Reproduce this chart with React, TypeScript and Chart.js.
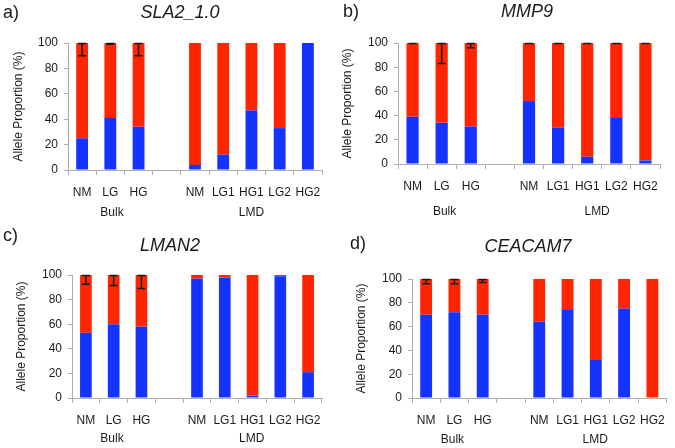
import React, { useEffect, useRef } from "react";
import { Chart, registerables } from "chart.js";

Chart.register(...registerables);

// ---- data ----
const CATEGORIES = ["NM", "LG", "HG", "", "NM", "LG1", "HG1", "LG2", "HG2"];
const GROUP_LABELS = ["Bulk", "LMD"];
const Y_TICKS = [0, 20, 40, 60, 80, 100];

const SLA2_BLUE = [25, 41, 34, null, 4, 12, 47, 33, 100];
const SLA2_RED = [75, 59, 66, null, 96, 88, 53, 67, 0];
const SLA2_ERR = [10, 1, 10, null, null, null, null, null, null];

const MMP9_BLUE = [39, 34, 31, null, 52, 30, 6, 38, 3];
const MMP9_RED = [61, 66, 69, null, 48, 70, 94, 62, 97];
const MMP9_ERR = [0.5, 17, 4, null, 0.5, 0.5, 0.5, 0.5, 0.5];

const LMAN2_BLUE = [53, 60, 58, null, 97, 98, 2, 99, 21];
const LMAN2_RED = [47, 40, 42, null, 3, 2, 98, 1, 79];
const LMAN2_ERR = [7.5, 8.5, 11, null, null, null, null, null, null];

const CEACAM7_BLUE = [70, 72, 70, null, 64, 74, 32, 75, 0];
const CEACAM7_RED = [30, 28, 30, null, 36, 26, 68, 25, 100];
const CEACAM7_ERR = [4, 4, 3, null, null, null, null, null, null];

const BLUE = "#1433ff";
const RED = "#ff2500";
const AXIS = "#aeaeae";
const TEXT = "#1a1a1a";
const FONT = "'Liberation Sans', Arial, sans-serif";

type Panel = {
  letter: string;
  title: string;
  blue: (number | null)[];
  red: (number | null)[];
  err: (number | null)[];
  box: { x: number; y: number; w: number; h: number };
  plot: { left: number; right: number; top: number; bottom: number };
  titleX: number;
  titleY: number;
  letterX: number;
  letterY: number;
  groupPos: number[];
  groupY: number;
  yTitleX: number;
};

const PANELS: Panel[] = [
  {
    letter: "a)", title: "SLA2_1.0", blue: SLA2_BLUE, red: SLA2_RED, err: SLA2_ERR,
    box: { x: 0, y: 0, w: 337, h: 224 },
    plot: { left: 68, right: 322, top: 43, bottom: 170 },
    titleX: 180, titleY: 13, letterX: 3, letterY: 13,
    groupPos: [1.06, 6.0], groupY: 213, yTitleX: 19,
  },
  {
    letter: "b)", title: "MMP9", blue: MMP9_BLUE, red: MMP9_RED, err: MMP9_ERR,
    box: { x: 335, y: 0, w: 340, h: 224 },
    plot: { left: 63, right: 325, top: 43, bottom: 164 },
    titleX: 192, titleY: 12, letterX: 8, letterY: 12,
    groupPos: [1.1, 6.34], groupY: 212, yTitleX: 13,
  },
  {
    letter: "c)", title: "LMAN2", blue: LMAN2_BLUE, red: LMAN2_RED, err: LMAN2_ERR,
    box: { x: 0, y: 224, w: 337, h: 224 },
    plot: { left: 72, right: 322, top: 51, bottom: 174 },
    titleX: 170, titleY: 22, letterX: 3, letterY: 12,
    groupPos: [0.94, 5.97], groupY: 215, yTitleX: 22,
  },
  {
    letter: "d)", title: "CEACAM7", blue: CEACAM7_BLUE, red: CEACAM7_RED, err: CEACAM7_ERR,
    box: { x: 335, y: 224, w: 340, h: 224 },
    plot: { left: 77, right: 335, top: 55, bottom: 174 },
    titleX: 193, titleY: 23, letterX: 15, letterY: 20,
    groupPos: [0.93, 5.98], groupY: 216, yTitleX: 27,
  },
];

const Y_TITLE_SIZE = 12;

function PanelChart({ p }: { p: Panel }) {
  const ref = useRef<HTMLCanvasElement | null>(null);
  useEffect(() => {
    if (!ref.current) return;
    const { w, h } = p.box;
    const errorPlugin = {
      id: "errbars",
      afterDatasetsDraw(chart: any) {
        const ctx = chart.ctx;
        const xs = chart.scales.x;
        const ys = chart.scales.y;
        ctx.save();
        ctx.strokeStyle = "#1a1a1a";
        ctx.lineWidth = 1.5;
        p.err.forEach((e, i) => {
          if (e === null || e === undefined) return;
          const x = xs.getPixelForValue(i);
          const top = p.blue[i]! + p.red[i]!;
          const y1 = ys.getPixelForValue(top);
          const y2 = ys.getPixelForValue(top - e);
          ctx.beginPath();
          ctx.moveTo(x, y1);
          ctx.lineTo(x, y2);
          ctx.moveTo(x - 4, y1 + 0.5);
          ctx.lineTo(x + 4, y1 + 0.5);
          ctx.moveTo(x - 4, y2);
          ctx.lineTo(x + 4, y2);
          ctx.stroke();
        });
        ctx.restore();
      },
    };
    const textPlugin = {
      id: "texts",
      afterDraw(chart: any) {
        const ctx = chart.ctx;
        const xs = chart.scales.x;
        ctx.save();
        ctx.fillStyle = TEXT;
        ctx.textBaseline = "middle";
        ctx.font = `18px ${FONT}`;
        ctx.textAlign = "left";
        ctx.fillText(p.letter, p.letterX, p.letterY);
        ctx.font = `italic 18px ${FONT}`;
        ctx.textAlign = "center";
        ctx.fillText(p.title, p.titleX, p.titleY);
        ctx.font = `12px ${FONT}`;
        GROUP_LABELS.forEach((g, k) => {
          ctx.fillText(g, xs.getPixelForValue(p.groupPos[k]), p.groupY);
        });
        ctx.restore();
      },
    };
    const chart = new Chart(ref.current, {
      type: "bar",
      data: {
        labels: CATEGORIES,
        datasets: [
          { data: p.blue as any, backgroundColor: BLUE, borderWidth: 0, stack: "s" },
          { data: p.red as any, backgroundColor: RED, borderWidth: 0, stack: "s" },
        ],
      },
      options: {
        animation: false,
        responsive: false,
        maintainAspectRatio: false,
        layout: { padding: { left: 0, top: p.plot.top, right: w - p.plot.right, bottom: 0 } },
        plugins: { legend: { display: false }, tooltip: { enabled: false }, title: { display: false } },
        datasets: { bar: { categoryPercentage: 1, barPercentage: 0.42 } },
        scales: {
          x: {
            stacked: true,
            grid: { offset: true, drawOnChartArea: false, drawTicks: true, tickLength: 5, color: AXIS, lineWidth: 1 },
            border: { color: AXIS, width: 1 },
            ticks: { font: { family: FONT, size: 12 }, color: TEXT, padding: 10, maxRotation: 0, autoSkip: false },
            afterFit: (s: any) => { s.height = h - p.plot.bottom; },
          },
          y: {
            stacked: true,
            min: 0,
            max: 100,
            afterBuildTicks: (s: any) => { s.ticks = Y_TICKS.map((v) => ({ value: v })); },
            ticks: { font: { family: FONT, size: 12 }, color: TEXT, padding: 6 },
            grid: { drawOnChartArea: false, drawTicks: true, tickLength: 4, color: AXIS },
            border: { color: AXIS, width: 1 },
            title: {
              display: true,
              text: "Allele Proportion (%)",
              color: TEXT,
              font: { family: FONT, size: Y_TITLE_SIZE },
              padding: { top: Math.max(0, p.yTitleX - (Y_TITLE_SIZE * 1.2) / 2), bottom: 0 },
            },
            afterFit: (s: any) => { s.width = p.plot.left; },
          },
        },
      } as any,
      plugins: [errorPlugin, textPlugin],
    });
    return () => chart.destroy();
  }, [p]);
  return (
    <canvas
      ref={ref}
      width={p.box.w}
      height={p.box.h}
      style={{ position: "absolute", left: p.box.x, top: p.box.y, width: p.box.w, height: p.box.h }}
    />
  );
}

export default function App() {
  return (
    <div style={{ position: "absolute", left: 0, top: 0, width: 675, height: 448, background: "#fff", overflow: "hidden" }}>
      {PANELS.map((p) => (
        <PanelChart key={p.letter} p={p} />
      ))}
    </div>
  );
}
